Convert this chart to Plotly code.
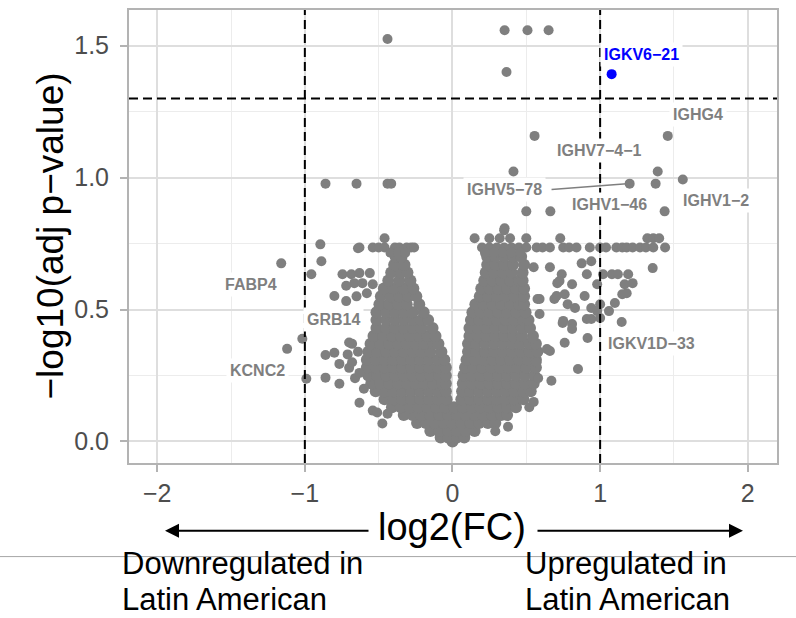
import plotly.graph_objects as go

# ---------------- data ----------------
# dense core of the volcano, row by row: -log10(adj p) level and the log2FC values on it
core_y = [0.00, 0.015, 0.04, 0.07, 0.10, 0.13, 0.16, 0.19, 0.22, 0.25, 0.28, 0.31, 0.34,
          0.37, 0.40, 0.43, 0.46, 0.49, 0.52, 0.55, 0.58, 0.61, 0.64, 0.67, 0.70]
core_x = [
    [0.0],
    [-0.08, -0.03, 0.03, 0.08],
    [-0.15, -0.09, -0.03, 0.03, 0.09, 0.15],
    [-0.24, -0.18, -0.12, -0.06, 0.0, 0.06, 0.12, 0.18, 0.24, 0.29],
    [-0.33, -0.27, -0.21, -0.15, -0.09, -0.03, 0.03, 0.09, 0.15, 0.21, 0.27, 0.33, 0.37],
    [-0.41, -0.35, -0.29, -0.23, -0.17, -0.11, -0.05, 0.01, 0.07, 0.13, 0.19, 0.25, 0.31, 0.37, 0.43],
    [-0.46, -0.40, -0.34, -0.28, -0.22, -0.16, -0.10, -0.04, 0.06, 0.12, 0.18, 0.24, 0.30, 0.36, 0.42, 0.48],
    [-0.52, -0.46, -0.40, -0.34, -0.28, -0.22, -0.16, -0.10, -0.045, 0.065, 0.12, 0.18, 0.24, 0.30, 0.36, 0.42, 0.48, 0.53],
    [-0.55, -0.49, -0.43, -0.37, -0.31, -0.25, -0.19, -0.13, -0.07, -0.045, 0.07, 0.13, 0.19, 0.25, 0.31, 0.37, 0.43, 0.49, 0.55],
    [-0.57, -0.51, -0.45, -0.39, -0.33, -0.27, -0.21, -0.15, -0.09, -0.045, 0.075, 0.13, 0.19, 0.25, 0.31, 0.37, 0.43, 0.49, 0.555],
    [-0.58, -0.52, -0.46, -0.40, -0.34, -0.28, -0.22, -0.16, -0.10, -0.045, 0.085, 0.14, 0.20, 0.26, 0.32, 0.38, 0.44, 0.50, 0.565],
    [-0.58, -0.52, -0.46, -0.40, -0.34, -0.28, -0.22, -0.16, -0.10, -0.055, 0.095, 0.15, 0.21, 0.27, 0.33, 0.39, 0.45, 0.51, 0.565],
    [-0.57, -0.51, -0.45, -0.39, -0.33, -0.27, -0.21, -0.15, -0.075, 0.105, 0.16, 0.22, 0.28, 0.34, 0.40, 0.46, 0.52, 0.575],
    [-0.555, -0.49, -0.43, -0.37, -0.31, -0.25, -0.19, -0.13, -0.095, 0.105, 0.16, 0.22, 0.28, 0.34, 0.40, 0.46, 0.52, 0.565],
    [-0.535, -0.47, -0.41, -0.35, -0.29, -0.23, -0.17, -0.115, 0.115, 0.17, 0.23, 0.29, 0.35, 0.41, 0.47, 0.545],
    [-0.515, -0.45, -0.39, -0.33, -0.27, -0.21, -0.135, 0.115, 0.17, 0.23, 0.29, 0.35, 0.41, 0.47, 0.525],
    [-0.515, -0.45, -0.39, -0.33, -0.27, -0.21, -0.165, 0.125, 0.18, 0.24, 0.30, 0.36, 0.42, 0.48, 0.515],
    [-0.515, -0.45, -0.39, -0.33, -0.27, -0.195, 0.135, 0.19, 0.25, 0.31, 0.37, 0.43, 0.495],
    [-0.495, -0.43, -0.37, -0.31, -0.225, 0.155, 0.21, 0.27, 0.33, 0.39, 0.45, 0.485],
    [-0.485, -0.42, -0.36, -0.30, -0.245, 0.185, 0.24, 0.30, 0.36, 0.42, 0.485],
    [-0.465, -0.40, -0.33, -0.265, 0.195, 0.25, 0.31, 0.37, 0.43, 0.485],
    [-0.435, -0.36, -0.285, 0.215, 0.27, 0.33, 0.39, 0.45, 0.475],
    [-0.415, -0.35, -0.305, 0.225, 0.28, 0.34, 0.40, 0.475],
    [-0.395, -0.325, 0.235, 0.29, 0.35, 0.41, 0.485],
    [-0.385, -0.345, 0.235, 0.29, 0.35, 0.41, 0.465],
]

# capped rows of tied adjusted p-values near the top of the cloud
cap_x = [-0.63, -0.54, -0.50, -0.46, -0.39, -0.36, -0.31, -0.28, -0.26,
         0.20, 0.25, 0.30, 0.35, 0.40, 0.45, 0.50, 0.57, 0.61, 0.66, 0.75, 0.79, 0.84, 0.93,
         1.00, 1.04, 1.11, 1.15, 1.18, 1.22, 1.27, 1.31, 1.36, 1.44]
cap_y = [0.735] * len(cap_x)
upper_x = [-0.42, -0.37, -0.32, 0.22, 0.28, 0.34, 0.40, 0.46,
           -0.46, 0.15, 0.25, 0.32, 0.39, 0.50, 0.73, 1.32, 1.36, 1.40, 0.35]
upper_y = [0.715, 0.715, 0.715, 0.715, 0.715, 0.715, 0.715, 0.715,
           0.77, 0.77, 0.77, 0.77, 0.77, 0.77, 0.77, 0.77, 0.77, 0.77, 0.80]

# scattered genes around the cloud
spread_x = [0.66, 0.74, 0.875, 0.94, 0.91, 1.02, 1.08, 1.12, 1.19, 1.356, 0.81, 0.98, 1.166, 1.22,
            0.71, 0.76, 0.69, 0.895, 0.59, 0.78, 0.83, 0.94, 1.00, 1.15, 1.18, 1.10, 1.06, 0.98,
            0.75, 0.81, 0.91, 0.94, 1.00, 1.146, 0.81, 0.76, 0.915, 0.85, 0.67, 0.64, 0.54, 0.58,
            0.725, 0.705, 0.576, 0.59, 0.746, 0.66, 0.55, 0.57, 0.29, 0.376, 0.52, 0.55,
            -0.745, -0.685, -0.63, -0.56, -0.665, -0.61, -0.54, -0.72, -0.80, -0.72, -0.58, -0.65,
            -0.80, -0.86, -0.766, -0.70, -0.766, -0.68, -0.71, -0.66, -0.70, -0.64, -0.63, -0.68,
            -0.63, -0.54, -0.475, -0.51, -0.44, -0.60,
            -0.99, -0.86, -1.017, -1.12, -1.16, -0.895, -0.888, -0.956, -0.64]
spread_y = [0.66, 0.634, 0.675, 0.683, 0.634, 0.634, 0.634, 0.634, 0.634, 0.657, 0.596, 0.596, 0.596, 0.60,
            0.60, 0.558, 0.54, 0.551, 0.54, 0.52, 0.506, 0.506, 0.52, 0.558, 0.562, 0.525, 0.494, 0.494,
            0.457, 0.445, 0.464, 0.464, 0.468, 0.453, 0.426, 0.374, 0.392, 0.275, 0.23, 0.35, 0.39, 0.24,
            0.608, 0.551, 0.54, 0.483, 0.449, 0.343, 0.66, 0.30, 0.039, 0.056, 0.13, 0.15,
            0.634, 0.634, 0.638, 0.638, 0.60, 0.60, 0.596, 0.59, 0.551, 0.532, 0.562, 0.55,
            0.336, 0.328, 0.294, 0.279, 0.219, 0.37, 0.33, 0.24, 0.375, 0.34, 0.26, 0.30,
            0.147, 0.117, 0.068, 0.11, 0.105, 0.20,
            0.238, 0.242, 0.389, 0.351, 0.675, 0.747, 0.683, 0.634, 0.732]

# most significant genes
top_x = [-0.44, -0.86, -0.65, -0.44, -0.415, 0.353, 0.508, 0.651, 0.366, 0.556, 1.458,
         0.413, 1.39, 1.56, 1.20, 1.376, 0.50, 0.663, 1.437, 0.353]
top_y = [1.525, 0.977, 0.977, 0.977, 0.977, 1.558, 1.558, 1.558, 1.40, 1.158, 1.158,
         1.023, 1.023, 0.993, 0.977, 0.977, 0.872, 0.872, 0.872, 0.808]

# highlighted significant gene
sig_x = [1.078]
sig_y = [1.392]

# gene labels
label_text = ["IGHG4", "IGHV7-4-1", "IGHV5-78", "IGHV1-46", "IGHV1-2", "IGKV1D-33",
              "FABP4", "GRB14", "KCNC2"]
label_x = [1.661, 0.997, 0.353, 1.064, 1.783, 1.349, -1.363, -0.807, -1.322]
label_y = [1.238, 1.102, 0.955, 0.898, 0.913, 0.370, 0.596, 0.464, 0.268]
sig_label = "IGKV6-21"

x_ticks = [-2, -1, 0, 1, 2]
x_ticktext = ["\u22122", "\u22121", "0", "1", "2"]
y_ticks = [0, 0.5, 1, 1.5]
y_ticktext = ["0.0", "0.5", "1.0", "1.5"]

fc_cut = 1
p_cut = 1.3

# ---------------- figure ----------------
FONT = "Liberation Sans, Arial, sans-serif"
GREY = "#7f7f7f"

core_px, core_py = [], []
for yv, xs in zip(core_y, core_x):
    core_px += xs
    core_py += [yv] * len(xs)
other_x = cap_x + upper_x + spread_x + top_x
other_y = cap_y + upper_y + spread_y + top_y

fig = go.Figure()
fig.add_trace(go.Scatter(x=core_px, y=core_py, mode="markers",
                         marker=dict(size=12, color=GREY, line=dict(width=0)),
                         hoverinfo="skip", showlegend=False))
fig.add_trace(go.Scatter(x=other_x, y=other_y, mode="markers",
                         marker=dict(size=10, color=GREY, line=dict(width=0)),
                         hoverinfo="skip", showlegend=False))
fig.add_trace(go.Scatter(x=sig_x, y=sig_y, mode="markers",
                         marker=dict(size=10, color="#0000ff", line=dict(width=0)),
                         hoverinfo="skip", showlegend=False))

axis_common = dict(
    showgrid=True, gridcolor="#dedede", gridwidth=1.5,
    zeroline=False, showline=True, mirror=True, linecolor="#b3b3b3", linewidth=2,
    ticks="outside", ticklen=7, tickwidth=1.5, tickcolor="#b3b3b3",
    tickfont=dict(family=FONT, size=25, color="#4d4d4d"),
)
fig.update_xaxes(range=[-2.191, 2.198], tickvals=x_ticks, ticktext=x_ticktext,
                 minor=dict(tickvals=[-1.5, -0.5, 0.5, 1.5], showgrid=True,
                            gridcolor="#ececec", gridwidth=1, ticks=""),
                 **axis_common)
fig.update_yaxes(range=[-0.0815, 1.635], tickvals=y_ticks, ticktext=y_ticktext,
                 minor=dict(tickvals=[0.25, 0.75, 1.25], showgrid=True,
                            gridcolor="#ececec", gridwidth=1, ticks=""),
                 ticklabelstandoff=6, **axis_common)

# threshold lines
dash = "9px,5px"
fig.add_shape(type="line", xref="x", yref="paper", x0=-fc_cut, x1=-fc_cut, y0=0, y1=1,
              line=dict(color="black", width=2, dash=dash))
fig.add_shape(type="line", xref="x", yref="paper", x0=fc_cut, x1=fc_cut, y0=0, y1=1,
              line=dict(color="black", width=2, dash=dash))
fig.add_shape(type="line", xref="paper", yref="y", x0=0, x1=1, y0=p_cut, y1=p_cut,
              line=dict(color="black", width=2, dash=dash))

# repel segment for IGHV5-78
fig.add_shape(type="line", xref="x", yref="y", x0=0.671, y0=0.955, x1=1.18, y1=0.977,
              line=dict(color=GREY, width=1.5))

for t, lx, ly in zip(label_text, label_x, label_y):
    fig.add_annotation(x=lx, y=ly, xref="x", yref="y", text=t.replace("-", "\u2212"),
                       showarrow=False, bgcolor="white", borderpad=3,
                       font=dict(family=FONT, size=16, color=GREY, weight="bold"))
fig.add_annotation(x=1.278, y=1.468, xref="x", yref="y", text=sig_label.replace("-", "\u2212"),
                   showarrow=False, bgcolor="white", borderpad=3,
                   font=dict(family=FONT, size=16, color="#0000ff", weight="bold"))

# axis titles
fig.add_annotation(x=-0.1219, y=0.5, xref="paper", yref="paper",
                   text="\u2212log10(adj p\u2212value)", textangle=-90, showarrow=False,
                   xanchor="center", yanchor="middle",
                   font=dict(family=FONT, size=37, color="black"))
fig.add_annotation(x=0.4985, y=-0.1407, xref="paper", yref="paper", text="log2(FC)",
                   showarrow=False, xanchor="center", yanchor="middle",
                   font=dict(family=FONT, size=38, color="black"))

# direction arrows (tips in paper coords, tails as pixel offsets)
arrow_y = -0.1495
fig.add_annotation(x=(165 - 129) / 648, y=arrow_y, xref="paper", yref="paper",
                   ax=370 - 165, ay=0, axref="pixel", ayref="pixel", text="",
                   showarrow=True, arrowhead=2, arrowsize=1.4, arrowwidth=2, arrowcolor="black")
fig.add_annotation(x=(743 - 129) / 648, y=arrow_y, xref="paper", yref="paper",
                   ax=536 - 743, ay=0, axref="pixel", ayref="pixel", text="",
                   showarrow=True, arrowhead=2, arrowsize=1.4, arrowwidth=2, arrowcolor="black")

# separator line
fig.add_shape(type="line", xref="paper", yref="paper", x0=-0.21, x1=1.04,
              y0=-0.2066, y1=-0.2066, line=dict(color="#a6a6a6", width=1))

# direction captions
cap_font = dict(family=FONT, size=31, color="black")
for txt, px, py in [("Downregulated in", 120, 564), ("Latin American", 120, 600),
                    ("Upregulated in", 523, 564), ("Latin American", 523, 600)]:
    fig.add_annotation(x=(px - 129) / 648, y=(463 - py) / 455, xref="paper", yref="paper",
                       text=txt, showarrow=False, xanchor="left", yanchor="middle",
                       font=cap_font)

fig.update_layout(
    width=796, height=618,
    margin=dict(l=129, r=19, t=8, b=155),
    paper_bgcolor="white", plot_bgcolor="white",
    showlegend=False,
    font=dict(family=FONT),
)

fig.write_html("out.html")
